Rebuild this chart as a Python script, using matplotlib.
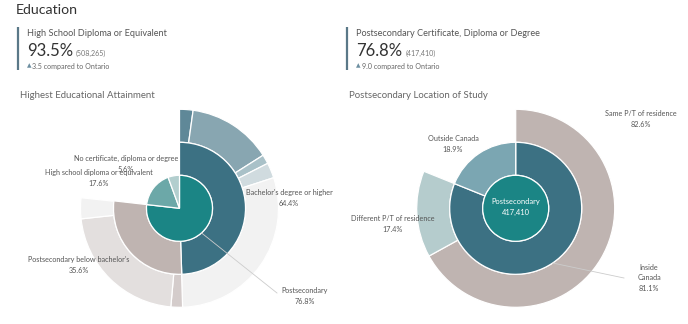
import numpy as np
import matplotlib
matplotlib.use("Agg")
import matplotlib.pyplot as plt

plt.rcParams['font.family'] = ['Lato', 'DejaVu Sans']

W, H = 688, 324

# ---- left chart: highest educational attainment (% of population)
inner_labels = ["Postsecondary", "High school diploma or equivalent", "No certificate, diploma or degree"]
inner_vals = [76.8, 17.6, 5.6]
inner_cols = ["#1b8585", "#6ca8a8", "#b2cece"]

mid_labels = ["Bachelor's degree or higher", "Postsecondary below bachelor's"]
mid_share = [64.4, 35.6]          # share of postsecondary
mid_cols = ["#3c7183", "#bfb4b1"]

outer_vals = [2.2, 13.8, 1.5, 2.5, 29.5, 1.9, 21.9, 3.4]   # detail rings, % of population
outer_cols = ["#5f8898", "#88a6b1", "#a9c1c8", "#d0dbdf", "#f2f2f2",
              "#d4cccb", "#e3dfde", "#f2f2f2"]

# ---- right chart: postsecondary location of study
post_total = "417,410"
loc_labels = ["Inside\nCanada", "Outside Canada"]
loc_vals = [81.1, 18.9]
loc_cols = ["#3c7183", "#7ba6b2"]
pt_labels = ["Same P/T of residence", "Different P/T of residence"]
pt_share = [82.6, 17.4]           # share of inside Canada
pt_cols = ["#bfb4b1", "#b5cccd"]

fig = plt.figure(figsize=(W / 100, H / 100), dpi=100)
ax = fig.add_axes([0, 0, 1, 1])

def Y(py):
    return H - py

R_IN, R_MID, R_OUT = 33, 66, 99
edge = dict(edgecolor="white", linewidth=0.9)

# left
c1 = (179.5, Y(208.3))
post = inner_vals[0]
mid_vals = [post * s / 100 for s in mid_share] + [100 - post]
outer_all = outer_vals + [100 - sum(outer_vals)]
w_out, _ = ax.pie(outer_all, colors=outer_cols + ["none"], radius=R_OUT, center=c1, startangle=90,
                  counterclock=False, wedgeprops=dict(width=R_OUT - R_MID, **edge), frame=True)
w_out[-1].set_edgecolor("none")
w_mid, _ = ax.pie(mid_vals, colors=mid_cols + ["none"], radius=R_MID, center=c1, startangle=90,
                  counterclock=False, wedgeprops=dict(width=R_MID - R_IN, **edge), frame=True)
w_mid[-1].set_edgecolor("none")
ax.pie(inner_vals, colors=inner_cols, radius=R_IN, center=c1, startangle=90,
       counterclock=False, wedgeprops=dict(**edge), frame=True)

# right
c2 = (515.7, Y(208.3))
ins = loc_vals[0]
pt_vals = [ins * s / 100 for s in pt_share] + [100 - ins]
w_pt, _ = ax.pie(pt_vals, colors=pt_cols + ["none"], radius=R_OUT, center=c2, startangle=90,
                 counterclock=False, wedgeprops=dict(width=R_OUT - R_MID, **edge), frame=True)
w_pt[-1].set_edgecolor("none")
ax.pie(loc_vals, colors=loc_cols, radius=R_MID, center=c2, startangle=90,
       counterclock=False, wedgeprops=dict(width=R_MID - R_IN, **edge), frame=True)
ax.pie([100], colors=[inner_cols[0]], radius=R_IN, center=c2, wedgeprops=dict(**edge), frame=True)

ax.set_xlim(0, W)
ax.set_ylim(0, H)
ax.set_aspect("equal")
ax.axis("off")

# leader lines from the middle of a slice
def leader(c, r, frac_mid, xy_text):
    a = np.deg2rad(90 - 360 * frac_mid)
    p = (c[0] + r * np.cos(a), c[1] + r * np.sin(a))
    ax.plot([p[0], xy_text[0]], [p[1], xy_text[1]], color="#cccccc", lw=0.6, zorder=5)

leader(c1, R_IN, post / 200, (277, Y(293)))
leader(c2, R_MID, ins / 200, (624, Y(278)))

lab = dict(fontsize=5.2, color="#555555", ha="center", va="center", linespacing=1.6)
ax.text(126, Y(164), f"{inner_labels[2]}\n{inner_vals[2]}%", **lab)
ax.text(99, Y(178), f"{inner_labels[1]}\n{inner_vals[1]}%", **lab)
ax.text(289, Y(198), f"{mid_labels[0]}\n{mid_share[0]}%", **lab)
ax.text(79, Y(265), f"{mid_labels[1]}\n{mid_share[1]}%", **lab)
ax.text(305, Y(296), f"{inner_labels[0]}\n{post}%", **lab)

ax.text(641, Y(119), f"{pt_labels[0]}\n{pt_share[0]}%", **lab)
ax.text(453, Y(144), f"{loc_labels[1]}\n{loc_vals[1]}%", **lab)
ax.text(393, Y(224), f"{pt_labels[1]}\n{pt_share[1]}%", **lab)
ax.text(649, Y(278), f"{loc_labels[0]}\n{loc_vals[0]}%", **lab)
ax.text(c2[0], c2[1] + 1, f"Postsecondary\n{post_total}", fontsize=5.4, color="white",
        ha="center", va="center", linespacing=1.6)

# header and KPI cards
ax.text(16, Y(10), "Education", fontsize=10.2, color="#333333", va="center")

def kpi(x, title, value, count, delta, sub):
    ax.plot([x - 9, x - 9], [Y(27), Y(70)], color="#5a7888", lw=1.6, solid_capstyle="butt")
    ax.text(x, Y(33), title, fontsize=6.6, color="#555555", va="center")
    t = ax.text(x, Y(51), value, fontsize=12, color="#333333", va="center")
    fig.canvas.draw()
    bb = t.get_window_extent()
    ax.text(bb.x1 + 3, Y(53), count, fontsize=5.1, color="#777777", va="center")
    ax.text(x, Y(66), "▲", fontsize=4.2, color="#6c8ea0", va="center", family="DejaVu Sans")
    ax.text(x + 5.5, Y(66), f"{delta} compared to Ontario", fontsize=5.1, color="#666666", va="center")
    ax.text(x - 7, Y(96), sub, fontsize=6.9, color="#666666", va="center")

kpi(27, "High School Diploma or Equivalent", "93.5%", "(508,265)", "3.5",
    "Highest Educational Attainment")
kpi(356, "Postsecondary Certificate, Diploma or Degree", "76.8%", "(417,410)", "9.0",
    "Postsecondary Location of Study")

fig.savefig("out.png", dpi=100)
